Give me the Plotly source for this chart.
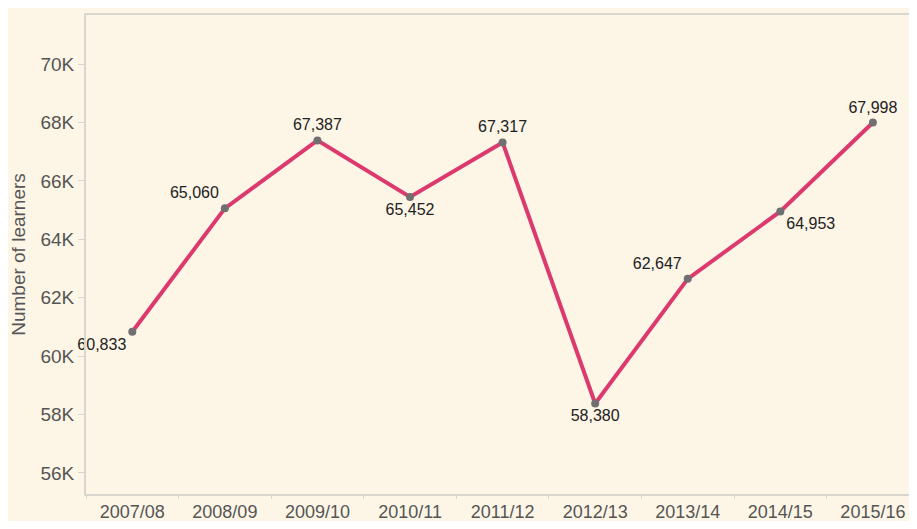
import plotly.graph_objects as go

years = ["2007/08", "2008/09", "2009/10", "2010/11", "2011/12",
         "2012/13", "2013/14", "2014/15", "2015/16"]
learners = [60833, 65060, 67387, 65452, 67317, 58380, 62647, 64953, 67998]
label_pos = ["bottom left", "top left", "top center", "bottom center", "top center",
             "bottom center", "top left", "bottom right", "top center"]

y_ticks = [56000, 58000, 60000, 62000, 64000, 66000, 68000, 70000]
y_ticktext = ["56K", "58K", "60K", "62K", "64K", "66K", "68K", "70K"]

BG = "#fdf5e6"
AXIS = "#d9d6d0"
FONT = "Liberation Sans Narrow, Arial Narrow, sans-serif"

fig = go.Figure()
fig.add_trace(go.Scatter(
    x=years,
    y=learners,
    mode="lines+markers+text",
    line=dict(color="#dc3a6f", width=4),
    marker=dict(color="#707070", size=8),
    text=[f"{v:,}" for v in learners],
    textposition=label_pos,
    textfont=dict(family=FONT, size=16, color="#222222"),
    showlegend=False,
    cliponaxis=False,
))

# page body has an 8px margin; keep the figure inside the window so nothing scrolls
fig.update_layout(
    width=901,
    height=513,
    paper_bgcolor=BG,
    plot_bgcolor=BG,
    margin=dict(l=78, r=0, t=7, b=27),
    font=dict(family=FONT, color="#555555"),
)

fig.update_xaxes(
    type="category",
    showgrid=False,
    showline=True,
    linecolor=AXIS,
    linewidth=2,
    mirror=True,
    ticks="outside",
    tickson="boundaries",
    tickcolor=AXIS,
    ticklen=3,
    tickfont=dict(family=FONT, size=18, color="#555555"),
    range=[-0.5, 8.39],   # right edge of the last band runs off the page
    automargin=False,
)

fig.update_yaxes(
    range=[55280, 71680],
    showgrid=False,
    zeroline=False,
    showline=True,
    linecolor=AXIS,
    linewidth=2,
    mirror=False,
    ticks="outside",
    tickcolor=AXIS,
    ticklen=6,
    tickvals=y_ticks,
    ticktext=y_ticktext,
    tickfont=dict(family=FONT, size=19, color="#555555"),
    title=dict(text="Number of learners", font=dict(family=FONT, size=19, color="#555555"), standoff=14),
    automargin=False,
)

fig.write_html("out.html")
